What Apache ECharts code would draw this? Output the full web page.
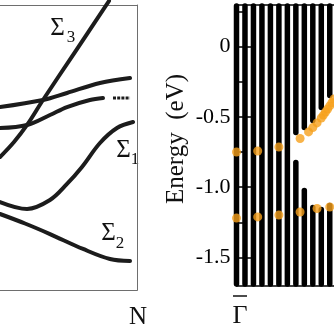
<!DOCTYPE html>
<html>
<head>
<meta charset="utf-8">
<style>
  html, body { margin: 0; padding: 0; background: #fff; }
  #chart { width: 334px; height: 334px; }
</style>
<script src="https://cdn.jsdelivr.net/npm/echarts@6/dist/echarts.min.js"></script>
</head>
<body>
<div id="chart"></div>
<script>
// ---- Left panel: bulk bands along Σ towards N (k as fraction of Γ–N, energy in eV) ----
const bandAK = [0, 0.313, 0.488, 0.728, 0.947];
const bandAE = [-0.574, -0.500, -0.426, -0.321, -0.268];

const bandBK = [0, 0.197, 0.364, 0.488, 0.655, 0.750];
const bandBE = [-0.795, -0.763, -0.658, -0.574, -0.500, -0.479];
const bandBTailK = [0.823, 0.947];
const bandBTailE = [-0.479, -0.479];

const sigma3K = [0, 0.102, 0.197, 0.313, 0.546, 0.794];
const sigma3E = [-1.100, -0.942, -0.763, -0.500, 0.005, 0.542];

const sigma1K = [0, 0.197, 0.364, 0.488, 0.597, 0.728, 0.852, 0.969];
const sigma1E = [-1.574, -1.647, -1.553, -1.384, -1.205, -0.953, -0.795, -0.732];

const sigma2K = [0, 0.182, 0.364, 0.605, 0.801, 0.947];
const sigma2E = [-1.700, -1.800, -1.911, -2.068, -2.174, -2.195];

// ---- Right panel: projected bulk continuum at discrete k (from Γ̄) ----
const stripeK = [0, 0.02, 0.04, 0.06, 0.08, 0.10, 0.12, 0.14, 0.16, 0.18, 0.20, 0.22];
const bulkTop = 0.29;
const bulkBottom = -1.69;
// lower edge of the upper continuum / upper edge of the lower continuum (null = no gap)
const gapUpperEdge = [null, null, null, null, null, null, null, -0.611, -0.575, -0.525, -0.433, -0.347];
const gapLowerEdge = [null, null, null, null, null, null, null, -0.825, -1.024, -1.145, -1.159, -1.131];

// surface states inside the gap
const surfUpK = [0, 0.05, 0.10, 0.15, 0.17, 0.18, 0.19, 0.20, 0.205, 0.21, 0.215, 0.22, 0.225, 0.23];
const surfUpE = [-0.750, -0.743, -0.714, -0.654, -0.607, -0.576, -0.543, -0.508, -0.487, -0.465, -0.444, -0.422, -0.398, -0.373];
const surfLoK = [0, 0.05, 0.10, 0.15, 0.19, 0.22];
const surfLoE = [-1.220, -1.212, -1.198, -1.177, -1.152, -1.141];

const majorTicks = [-1.5, -1.0, -0.5, 0];
const minorTicks = [-1.25, -0.75, -0.25, 0.25];

const zip = (xs, ys) => xs.map((x, i) => [x, ys[i]]);

const stripeSegments = [];
stripeK.forEach((k, i) => {
  if (gapUpperEdge[i] === null) {
    stripeSegments.push([k, bulkTop, bulkBottom]);
  } else {
    stripeSegments.push([k, bulkTop, gapUpperEdge[i]]);
    stripeSegments.push([k, gapLowerEdge[i], bulkBottom]);
  }
});

const SERIF = '"Liberation Serif", "DejaVu Serif", serif';
const INK = '#1c1c1c';
const FRAME_L = '#6e6e6e';
const ORANGE = '#F6A01B';

const bandLine = (name, k, e, extra) => Object.assign({
  name, type: 'line', xAxisIndex: 0, yAxisIndex: 0,
  data: zip(k, e), smooth: 0.35, showSymbol: false, clip: false,
  lineStyle: { color: INK, width: 4, cap: 'round' }, silent: true
}, extra || {});

const hidden = { show: false };
const frame = (color, width) => ({ show: true, onZero: false, lineStyle: { color, width } });

const chart = echarts.init(document.getElementById('chart'), null, { renderer: 'canvas' });

chart.setOption({
  animation: false,
  backgroundColor: '#fff',
  grid: [
    { left: 0, right: 196.7, top: 5, bottom: 44 },
    { left: 236.5, right: 0, top: 4.5, bottom: 48.5 }
  ],
  xAxis: [
    { gridIndex: 0, type: 'value', min: 0, max: 1, position: 'bottom',
      axisLine: frame(FRAME_L, 1), axisTick: hidden, axisLabel: hidden, splitLine: hidden },
    { gridIndex: 1, type: 'value', min: 0, max: 0.23, position: 'bottom',
      axisLine: frame('#000', 1.5), axisTick: hidden, axisLabel: hidden, splitLine: hidden },
    { gridIndex: 1, type: 'value', min: 0, max: 0.23, position: 'top',
      axisLine: frame('#000', 1.5), axisTick: hidden, axisLabel: hidden, splitLine: hidden },
    { gridIndex: 0, type: 'value', min: 0, max: 1, position: 'top',
      axisLine: frame(FRAME_L, 1), axisTick: hidden, axisLabel: hidden, splitLine: hidden }
  ],
  yAxis: [
    { gridIndex: 0, type: 'value', min: -2.5, max: 0.5,
      axisLine: hidden, axisTick: hidden, axisLabel: hidden, splitLine: hidden },
    { gridIndex: 1, type: 'value', min: -1.7, max: 0.3, position: 'left',
      axisLine: frame('#000', 1.5),
      axisTick: { show: true, inside: true, length: 16, customValues: majorTicks, lineStyle: { color: '#000', width: 1.5 } },
      axisLabel: { show: true, customValues: majorTicks, margin: 6, color: '#000',
        fontFamily: SERIF, fontSize: 22,
        formatter: v => (Math.abs(v) < 1e-9 ? '0' : v.toFixed(1)) },
      splitLine: hidden },
    { gridIndex: 1, type: 'value', min: -1.7, max: 0.3, position: 'left',
      axisLine: { show: false, onZero: false },
      axisTick: { show: true, inside: true, length: 8, customValues: minorTicks, lineStyle: { color: '#000', width: 1.5 } },
      axisLabel: hidden, splitLine: hidden },
    { gridIndex: 0, type: 'value', min: -2.5, max: 0.5, position: 'right',
      axisLine: frame(FRAME_L, 1), axisTick: hidden, axisLabel: hidden, splitLine: hidden }
  ],
  series: [
    bandLine('band A', bandAK, bandAE),
    bandLine('band B', bandBK, bandBE),
    bandLine('band B tail', bandBTailK, bandBTailE, { smooth: false,
      lineStyle: { color: INK, width: 3, type: [3, 1.2] } }),
    bandLine('Σ3', sigma3K, sigma3E),
    bandLine('Σ1', sigma1K, sigma1E),
    bandLine('Σ2', sigma2K, sigma2E),
    {
      name: 'bulk continuum', type: 'custom', xAxisIndex: 1, yAxisIndex: 1,
      data: stripeSegments, clip: false, silent: true, z: 2,
      renderItem: (params, api) => {
        const p1 = api.coord([api.value(0), api.value(1)]);
        const p2 = api.coord([api.value(0), api.value(2)]);
        return {
          type: 'line',
          shape: { x1: p1[0], y1: p1[1], x2: p2[0], y2: p2[1] },
          style: { stroke: '#000', lineWidth: 5.5, lineCap: 'round' }
        };
      }
    },
    {
      name: 'surface state (upper)', type: 'scatter', xAxisIndex: 1, yAxisIndex: 1,
      data: zip(surfUpK, surfUpE), symbolSize: 9, clip: false, z: 5, silent: true,
      itemStyle: { color: ORANGE }
    },
    {
      name: 'surface state (lower)', type: 'scatter', xAxisIndex: 1, yAxisIndex: 1,
      data: zip(surfLoK, surfLoE), symbolSize: 9, clip: false, z: 5, silent: true,
      itemStyle: { color: ORANGE }
    }
  ],
  graphic: [
    // band labels
    { type: 'text', x: 57.5, y: 28.5, style: { text: 'Σ', font: '25px ' + SERIF, fill: '#111', textAlign: 'center', textVerticalAlign: 'middle' } },
    { type: 'text', x: 71, y: 38, style: { text: '3', font: '17px ' + SERIF, fill: '#111', textAlign: 'center', textVerticalAlign: 'middle' } },
    { type: 'text', x: 123.5, y: 150, style: { text: 'Σ', font: '25px ' + SERIF, fill: '#111', textAlign: 'center', textVerticalAlign: 'middle' } },
    { type: 'text', x: 135, y: 160, style: { text: '1', font: '17px ' + SERIF, fill: '#111', textAlign: 'center', textVerticalAlign: 'middle' } },
    { type: 'text', x: 108.5, y: 233.5, style: { text: 'Σ', font: '25px ' + SERIF, fill: '#111', textAlign: 'center', textVerticalAlign: 'middle' } },
    { type: 'text', x: 120, y: 244, style: { text: '2', font: '17px ' + SERIF, fill: '#111', textAlign: 'center', textVerticalAlign: 'middle' } },
    // high-symmetry points
    { type: 'text', x: 138, y: 317, style: { text: 'N', font: '25px ' + SERIF, fill: '#111', textAlign: 'center', textVerticalAlign: 'middle' } },
    { type: 'text', x: 240, y: 316, style: { text: 'Γ', font: '26px ' + SERIF, fill: '#111', textAlign: 'center', textVerticalAlign: 'middle' } },
    { type: 'line', shape: { x1: 233, y1: 296, x2: 247, y2: 296 }, style: { stroke: '#111', lineWidth: 1.5 } },
    // energy axis title
    { type: 'text', x: 176, y: 139, rotation: Math.PI / 2,
      style: { text: 'Energy  (eV)', font: '25px ' + SERIF, fill: '#111', textAlign: 'center', textVerticalAlign: 'middle' } }
  ]
});
</script>
</body>
</html>
